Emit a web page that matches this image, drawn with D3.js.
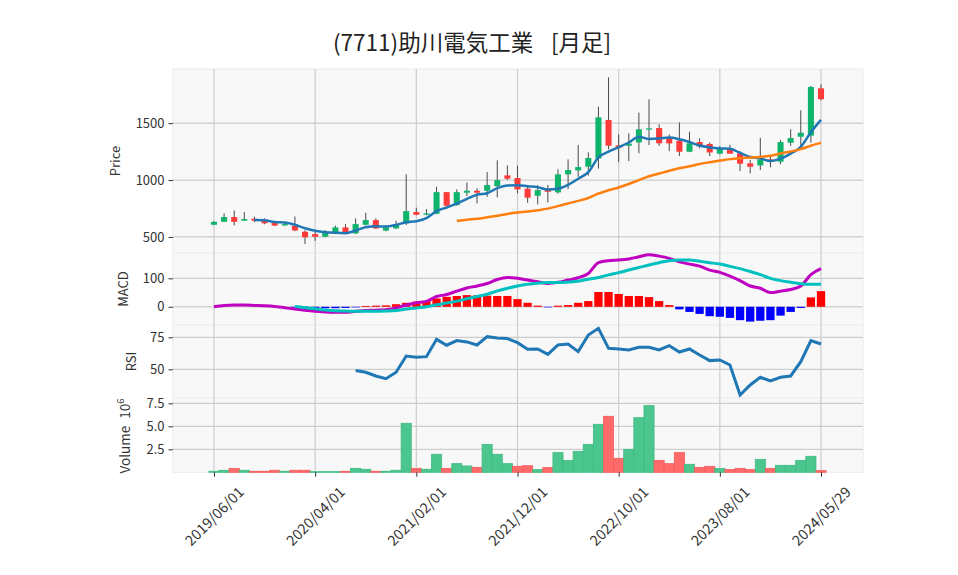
<!DOCTYPE html>
<html><head><meta charset="utf-8">
<script src="https://cdn.jsdelivr.net/npm/d3@7"></script>
<style>
html,body{margin:0;padding:0;background:#fff;}
text{font-family:"Noto Sans CJK JP","Noto Sans",sans-serif;}
</style></head>
<body><svg id="c" width="958" height="575"></svg>
<script>
// ---- data (monthly) ----
const dates = ["2019/06/01","2019/07/01","2019/08/01","2019/09/01","2019/10/01","2019/11/01","2019/12/01",
"2020/01/01","2020/02/01","2020/03/01","2020/04/01","2020/05/01","2020/06/01","2020/07/01","2020/08/01","2020/09/01","2020/10/01","2020/11/01","2020/12/01",
"2021/01/01","2021/02/01","2021/03/01","2021/04/01","2021/05/01","2021/06/01","2021/07/01","2021/08/01","2021/09/01","2021/10/01","2021/11/01","2021/12/01",
"2022/01/01","2022/02/01","2022/03/01","2022/04/01","2022/05/01","2022/06/01","2022/07/01","2022/08/01","2022/09/01","2022/10/01","2022/11/01","2022/12/01",
"2023/01/01","2023/02/01","2023/03/01","2023/04/01","2023/05/01","2023/06/01","2023/07/01","2023/08/01","2023/09/01","2023/10/01","2023/11/01","2023/12/01",
"2024/01/01","2024/02/01","2024/03/01","2024/04/01","2024/05/01","2024/05/29"];
const opens = [607,633,675,643,660,645,628,601,598,546,525,502,543,584,531,607,648,556,575,619,719,695,704,894,780,889,906,906,947,1041,1018,924,862,918,892,1050,1085,1117,1190,1528,1305,1302,1331,1443,1457,1378,1346,1249,1334,1317,1232,1279,1235,1147,1129,1182,1161,1328,1381,1390,1806];
const highs = [638,707,733,718,678,663,632,625,680,560,546,560,600,613,663,713,663,604,642,1050,757,745,941,894,918,979,927,1070,1173,1129,1126,956,956,956,1094,1182,1308,1243,1645,1903,1402,1410,1592,1710,1490,1400,1507,1425,1366,1330,1299,1311,1255,1176,1372,1214,1352,1446,1613,1827,1841];
const lows  = [603,630,601,640,630,612,595,598,550,437,466,498,535,540,525,600,570,550,570,605,690,690,700,774,775,860,795,853,848,1000,883,801,786,804,880,921,1030,1040,1100,1270,1158,1167,1235,1308,1300,1255,1211,1245,1279,1211,1225,1230,1079,1059,1088,1112,1138,1300,1275,1328,1700];
const closes = [633,675,633,657,643,620,600,613,557,497,502,540,584,543,613,648,575,581,613,727,695,707,894,774,894,906,889,956,1000,1012,918,845,912,897,1050,1088,1114,1194,1551,1302,1284,1320,1446,1454,1323,1322,1249,1323,1296,1243,1279,1232,1144,1117,1182,1161,1334,1369,1416,1818,1710];
// volume in millions of shares
const volumes = [0.11,0.22,0.43,0.22,0.11,0.11,0.22,0.11,0.22,0.22,0.07,0.07,0.07,0.11,0.43,0.33,0.11,0.11,0.22,5.33,0.43,0.33,1.96,0.43,0.94,0.69,0.54,3.04,1.96,0.94,0.65,0.72,0.29,0.51,2.14,1.30,2.28,3.04,5.22,6.09,1.52,2.50,5.94,7.25,1.30,0.94,2.14,0.87,0.54,0.65,0.43,0.29,0.43,0.29,1.41,0.43,0.76,0.76,1.30,1.74,0.18];
// moving averages (start at index 4 and 24)
const ma5 = [null,null,null,null,648,646,631,627,607,577,554,542,536,533,556,586,593,592,606,629,638,665,727,759,793,835,871,884,929,953,955,946,937,917,924,958,1012,1069,1199,1250,1289,1330,1381,1361,1365,1373,1359,1334,1303,1287,1278,1275,1239,1203,1191,1167,1188,1233,1292,1420,1529];
const ma25 = [null,null,null,null,null,null,null,null,null,null,null,null,null,null,null,null,null,null,null,null,null,null,null,null,641,652,660,673,687,702,714,723,735,749,771,794,817,842,882,910,935,965,1000,1033,1057,1082,1104,1121,1142,1156,1171,1184,1192,1197,1203,1213,1233,1251,1272,1302,1327];
// MACD (line from index 0, signal & histogram from index 8)
const macdLine = [0,4.7,5.9,5.9,4.7,3.5,1,-3.5,-8,-12,-16,-18,-19,-19,-16,-13,-12,-10,-4,6,14,19,36,43,55,66,73,82,96,103,100,94,88,82,86,94,102,117,155,162,164,168,176,183,178,170,158,150,143,129,121,108,92,73,65,50,55,61,73,113,134];
const signalLine = [null,null,null,null,null,null,null,null,1,-3,-7,-11,-14,-15,-16,-16,-16,-15,-13,-8,-4,0,7,13,20,28,36,44,56,65,73,79,83,85,85,87,90,97,103,112,120,129,138,147,155,162,164,164,160,155,150,142,134,124,113,100,92,86,81,79,79];
const histVals = [null,null,null,null,null,null,null,null,-3,-4,-5,-5,-5,-4,-2,3,4,5,9,14,18,21,29,35,38,41,40,39,38,38,27,14,4,-2,4,6,14,20,52,52,45,38,38,34,20,6,-9,-18,-25,-33,-35,-39,-47,-52,-49,-47,-31,-18,-4,33,55];
// RSI (from index 14)
const rsiVals = [null,null,null,null,null,null,null,null,null,null,null,null,null,null,49,47.7,44.8,42.7,47.7,60.4,59.4,59.9,73.4,68.8,72.4,71.4,69,75.5,74.5,74,70.8,65.6,65.9,61.7,69,69.8,63.8,76.8,82,66.4,65.9,65.1,67.2,67.2,65.1,68.5,63.5,65.9,61.2,56.8,57.3,53.4,29.9,37.8,43.8,40.9,43.8,44.8,56,72.4,69.8];
const tickIdx = [0,10,20,30,40,50,60];
const priceTicks = [500,1000,1500];
const macdTicks = [0,100];
const rsiTicks = [50,75];
const volTicks = [2.5,5.0,7.5];
const titleMain = "(7711)助川電気工業";
const titleSub = "[月足]";

// ---- drawing ----
const svg = d3.select("#c");
const L = 173, R = 863;
const x = d3.scaleLinear().domain([-4.05, 64.15]).range([L, R]);
const yP = d3.scaleLinear().domain([359, 1976]).range([253, 69]);
const yM = d3.scaleLinear().domain([-64, 189]).range([325, 253]);
const yR = d3.scaleLinear().domain([27.6, 84.6]).range([398, 325]);
const yV = d3.scaleLinear().domain([0, 8.08]).range([472.3, 398]);
const panels = [[yP, priceTicks, d => d], [yM, macdTicks, d => d], [yR, rsiTicks, d => d], [yV, volTicks, d => d.toFixed(1)]];
const UP = "#0fb46c", DN = "#ff3a3a";
const grid = "#cdcdcd";

panels.forEach(([y, ticks, fmt]) => {
  const [b, t] = y.range();
  svg.append("rect").attr("x", L).attr("y", t).attr("width", R - L).attr("height", b - t)
    .attr("fill", "#f8f8f8").attr("stroke", "#ececec").attr("stroke-width", 1);
  const g = svg.append("g");
  g.selectAll(".vg").data(tickIdx).join("line")
    .attr("x1", d => x(d)).attr("x2", d => x(d)).attr("y1", t).attr("y2", b)
    .attr("stroke", grid).attr("stroke-width", 1.2);
  g.selectAll(".hg").data(ticks).join("line")
    .attr("x1", L).attr("x2", R).attr("y1", d => y(d)).attr("y2", d => y(d))
    .attr("stroke", grid).attr("stroke-width", 1.2);
  const ax = svg.append("g").attr("transform", `translate(${L},0)`)
    .call(d3.axisLeft(y).tickValues(ticks).tickSize(4.5).tickPadding(4).tickFormat(fmt));
  ax.select(".domain").remove();
  ax.selectAll("line").attr("stroke", "#333");
  ax.selectAll("text").attr("font-size", 13).attr("fill", "#333")
    .style("font-family", "'Noto Sans CJK JP', sans-serif");
});

// axis labels
const lab = (txt, cx, cy) => svg.append("text").attr("transform", `translate(${cx},${cy}) rotate(-90)`)
  .attr("text-anchor", "middle").attr("font-size", 13).attr("fill", "#333").text(txt);
lab("Price", 120, 161);
lab("MACD", 128, 289);
lab("RSI", 136, 361.5);
const vl = svg.append("text").attr("transform", "translate(130,436) rotate(-90)")
  .attr("text-anchor", "middle").attr("font-size", 13.5).attr("fill", "#333");
vl.append("tspan").text("Volume");
vl.append("tspan").attr("dx", 7).text("10");
vl.append("tspan").attr("dy", -6).attr("font-size", 9.5).text("6");

// candles
const n = closes.length;
const idx = d3.range(n);
const bw = x(0.3) - x(0);
const cg = svg.append("g");
cg.selectAll(".wick").data(idx).join("line")
  .attr("x1", i => x(i)).attr("x2", i => x(i))
  .attr("y1", i => yP(highs[i])).attr("y2", i => yP(lows[i]))
  .attr("stroke", "#4a4a4a").attr("stroke-width", 1);
cg.selectAll(".body").data(idx).join("rect")
  .attr("x", i => x(i) - bw).attr("width", 2 * bw)
  .attr("y", i => yP(Math.max(opens[i], closes[i])))
  .attr("height", i => Math.max(1, Math.abs(yP(opens[i]) - yP(closes[i]))))
  .attr("fill", i => closes[i] >= opens[i] ? UP : DN);

// moving averages
const lineOf = (arr, y) => d3.line().defined(i => arr[i] != null).x(i => x(i)).y(i => y(arr[i])).curve(d3.curveMonotoneX)(idx);
svg.append("path").attr("d", lineOf(ma5, yP)).attr("fill", "none").attr("stroke", "#1f77b4").attr("stroke-width", 2.5);
svg.append("path").attr("d", lineOf(ma25, yP)).attr("fill", "none").attr("stroke", "#ff7f0e").attr("stroke-width", 2.5);

// MACD histogram + lines
const hw = x(0.41) - x(0);
svg.append("g").selectAll("rect").data(idx.filter(i => histVals[i] != null)).join("rect")
  .attr("x", i => x(i) - hw).attr("width", 2 * hw)
  .attr("y", i => yM(Math.max(0, histVals[i])))
  .attr("height", i => Math.abs(yM(histVals[i]) - yM(0)))
  .attr("fill", i => histVals[i] >= 0 ? "#ff0000" : "#0000ff");
svg.append("path").attr("d", lineOf(macdLine, yM)).attr("fill", "none").attr("stroke", "#c000c0").attr("stroke-width", 3);
svg.append("path").attr("d", lineOf(signalLine, yM)).attr("fill", "none").attr("stroke", "#00c0c0").attr("stroke-width", 3);

// RSI
svg.append("path").attr("d", d3.line().defined(i => rsiVals[i] != null).x(i => x(i)).y(i => yR(rsiVals[i]))(idx))
  .attr("fill", "none").attr("stroke", "#1f77b4").attr("stroke-width", 3);

// volume
const vw = x(0.5) - x(0);
svg.append("g").selectAll("rect").data(idx).join("rect")
  .attr("x", i => x(i) - vw).attr("width", 2 * vw)
  .attr("y", i => yV(volumes[i])).attr("height", i => yV(0) - yV(volumes[i]))
  .attr("fill", i => (i === 0 || closes[i] >= closes[i - 1]) ? "#4bc68e" : "#ff6b6b")
  .attr("stroke", i => (i === 0 || closes[i] >= closes[i - 1]) ? "#3dbb80" : "#f55a5a").attr("stroke-width", 0.8);

// x axis
const xa = svg.append("g").attr("transform", "translate(0,472.3)")
  .call(d3.axisBottom(x).tickValues(tickIdx).tickSize(4.5).tickFormat(i => dates[i]));
xa.select(".domain").remove();
xa.selectAll("line").attr("stroke", "#333");
xa.selectAll("text").attr("font-size", 14.5).attr("fill", "#333")
  .style("font-family", "'Noto Sans CJK JP', sans-serif")
  .attr("text-anchor", "middle").attr("y", 0).attr("dy", "0.35em")
  .attr("transform", "translate(0,44) rotate(-45)");

// title
const tt = svg.append("text").attr("x", 333).attr("y", 51).attr("font-size", 22.5).attr("fill", "#222");
tt.append("tspan").text(titleMain);
tt.append("tspan").attr("x", 551).text(titleSub);
</script></body></html>
